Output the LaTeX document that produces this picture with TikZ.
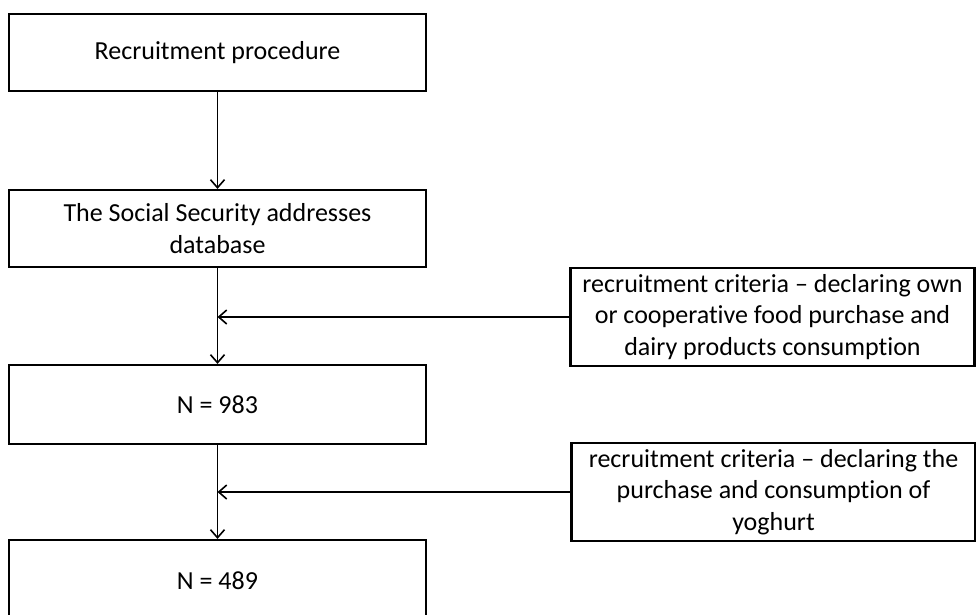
\documentclass[tikz,border=0pt]{standalone}
\usepackage{fontspec}
\setmainfont{Carlito}[Ligatures=NoCommon]
\usepackage{tikz}
\usetikzlibrary{arrows.meta}

\begin{document}
\begin{tikzpicture}[x=1pt, y=-1pt, -{Straight Barb[length=8pt, width=14pt, line width=1.6pt]},
                    line width=1.7pt,
                    font=\fontsize{26}{31.7}\selectfont,
                    stage/.style={draw, line width=2.2pt, minimum width=417pt,
                                  minimum height=77pt, align=center, inner sep=0pt},
                    criteria/.style={draw, line width=2.2pt, minimum width=404pt,
                                     minimum height=98pt, align=center, inner sep=0pt}
                   ]
    \clip (0,0) rectangle (976,615);

    \node[stage] (procedure) at (217.5,52.5) {Recruitment procedure};
    \node[stage] (database) at (217.5,228.5) {The Social Security addresses\\database};
    \node[stage, minimum height=79pt] (first) at (217.5,404.5) {N = 983};
    \node[stage, minimum height=82pt] (second) at (217.5,581) {N = 489};

    \node[criteria] (ownfood) at (772.5,317) {recruitment criteria -- declaring own\\or cooperative food purchase and\\dairy products consumption};
    \node[criteria] (yoghurt) at (773.5,492) {recruitment criteria -- declaring the\\purchase and consumption of\\yoghurt};

    \coordinate (join1) at (database.south |- ownfood.west);
    \coordinate (join2) at (first.south |- yoghurt.west);

    \draw (procedure) -- (database);
    \draw (database) -- (first);
    \draw (first) -- (second);
    \draw (ownfood) -- (join1);
    \draw (yoghurt) -- (join2);
\end{tikzpicture}
\end{document}
